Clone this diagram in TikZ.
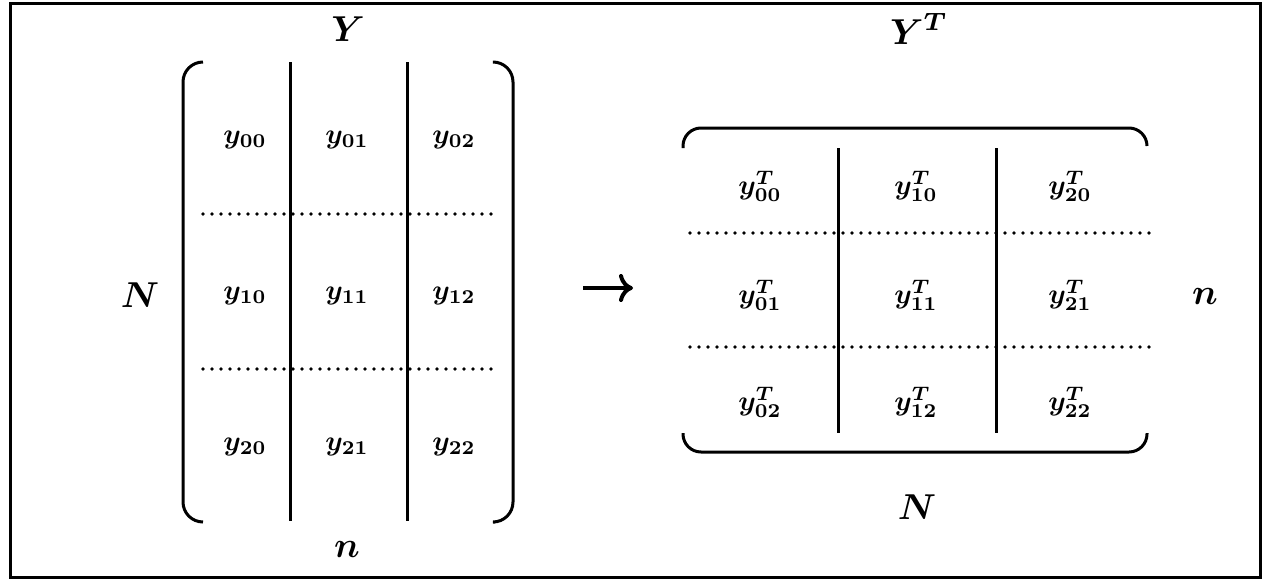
\documentclass[tikz,border=0pt]{standalone}
\usepackage{graphicx}
\usepackage{amsmath,bm}
\usetikzlibrary{arrows.meta}
\newcommand\yent[1]{$\bm{y}_{\mathbf{#1}}$}
\newcommand\ytent[1]{$\bm{y}^{\bm{T}}_{\mathbf{#1}}$}
\newcommand\entbox[1]{\scalebox{2.8}{#1}}
\newcommand\lblbox[1]{\scalebox{3.6}{#1}}
\begin{document}
\begin{tikzpicture}[x=1pt,y=-1pt,
  entry/.style={inner sep=0pt},
  lbl/.style={inner sep=0pt},
  rule/.style={line width=3pt},
  dotrow/.style={line width=3.8pt, line cap=round, dash pattern=on 0pt off 9pt},
  brak/.style={line width=3pt, rounded corners=20pt},
  maparrow/.style={line width=4pt, -{Computer Modern Rightarrow[length=14pt,width=28pt]}}]
\useasboundingbox (0,0) rectangle (1270,579);
\draw[line width=3pt] (10,3) rectangle (1260,577);

% ---- left matrix Y ----
\draw[brak] (203,62) -- (183,62) -- (183,522) -- (203,522);
\draw[brak] (495,62) -- (513,62) -- (513,522) -- (495,522);
\draw[rule] (290,62) -- (290,521);
\draw[rule] (407,62) -- (407,521);
\draw[dotrow] (203,214) -- (497,214);
\draw[dotrow] (203,369) -- (497,369);

\node[entry] (a00) at (245,140) {\entbox{\yent{00}}};
\node[entry] (a01) at (347,140) {\entbox{\yent{01}}};
\node[entry] (a02) at (454,140) {\entbox{\yent{02}}};
\node[entry] (a10) at (245,296) {\entbox{\yent{10}}};
\node[entry] (a11) at (347,296) {\entbox{\yent{11}}};
\node[entry] (a12) at (454,296) {\entbox{\yent{12}}};
\node[entry] (a20) at (245,447) {\entbox{\yent{20}}};
\node[entry] (a21) at (347,447) {\entbox{\yent{21}}};
\node[entry] (a22) at (454,447) {\entbox{\yent{22}}};

\node[lbl, anchor=base] (Y) at (348,41) {\lblbox{$\bm{Y}$}};
\node[lbl] (N1) at (140,295) {\lblbox{$\bm{N}$}};
\node[lbl] (n1) at (347,549) {\lblbox{$\bm{n}$}};

% ---- transposition arrow ----
\coordinate (arrS) at (583,288);
\coordinate (arrE) at (633,288);
\draw[maparrow] (arrS) -- (arrE);

% ---- right matrix Y^T ----
\draw[brak,rounded corners=18pt] (683,148) -- (683,128) -- (1147,128) -- (1147,146);
\draw[brak,rounded corners=18pt] (683,433) -- (683,452) -- (1147,452) -- (1147,433);
\draw[rule] (838,148) -- (838,433);
\draw[rule] (996,148) -- (996,433);
\draw[dotrow] (690,233) -- (1152,233);
\draw[dotrow] (690,347) -- (1152,347);

\node[entry] (b00) at (760,186) {\entbox{\ytent{00}}};
\node[entry] (b10) at (916,186) {\entbox{\ytent{10}}};
\node[entry] (b20) at (1070,186) {\entbox{\ytent{20}}};
\node[entry] (b01) at (760,295) {\entbox{\ytent{01}}};
\node[entry] (b11) at (916,295) {\entbox{\ytent{11}}};
\node[entry] (b21) at (1070,295) {\entbox{\ytent{21}}};
\node[entry] (b02) at (760,402) {\entbox{\ytent{02}}};
\node[entry] (b12) at (916,402) {\entbox{\ytent{12}}};
\node[entry] (b22) at (1070,402) {\entbox{\ytent{22}}};

\node[lbl, anchor=base] (YT) at (919,44) {\lblbox{$\bm{Y^T}$}};
\node[lbl] (n2) at (1205,296) {\lblbox{$\bm{n}$}};
\node[lbl] (N2) at (917,507) {\lblbox{$\bm{N}$}};
\end{tikzpicture}
\end{document}
